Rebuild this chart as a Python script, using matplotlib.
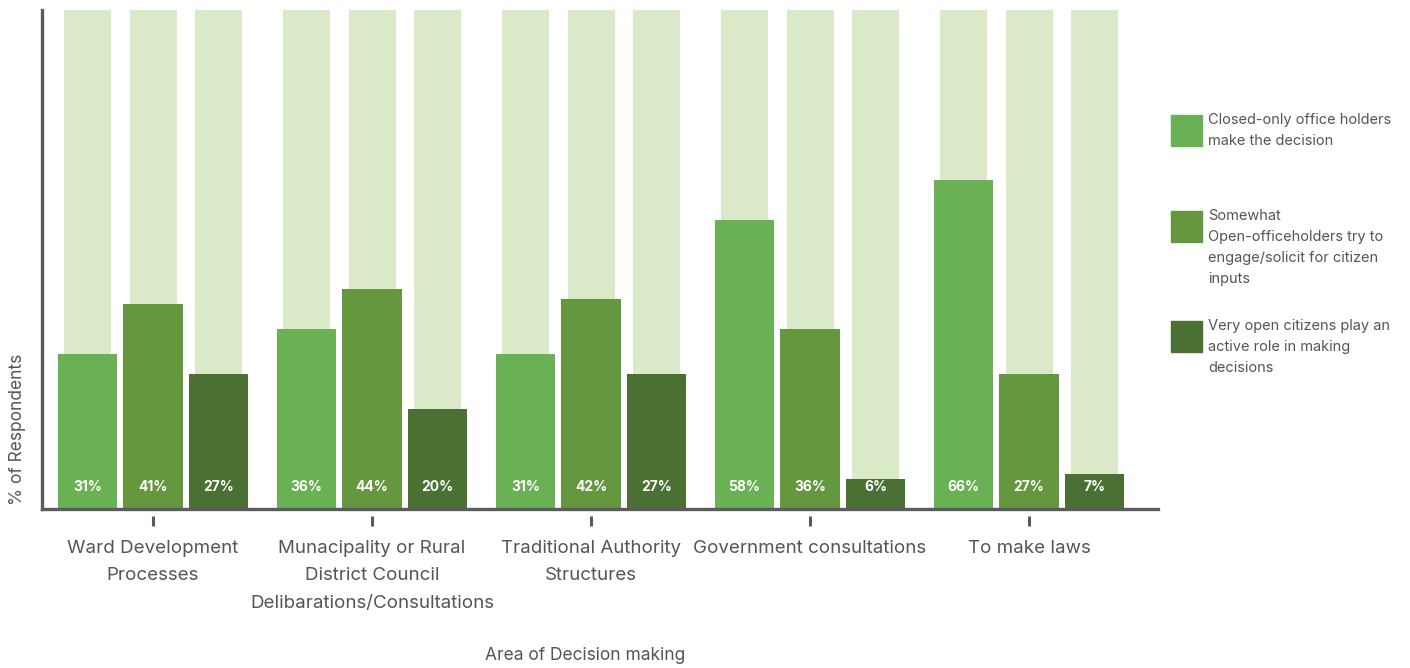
import matplotlib
matplotlib.use("Agg")
import matplotlib.pyplot as plt
from matplotlib.patches import Rectangle
from matplotlib.transforms import blended_transform_factory
import numpy as np

plt.rcParams['font.family'] = ['Inter', 'DejaVu Sans']

# Areas of decision making
categories = [
    "Ward Development\nProcesses",
    "Munacipality or Rural\nDistrict Council\nDelibarations/Consultations",
    "Traditional Authority\nStructures",
    "Government consultations",
    "To make laws",
]

# Share of respondents (%) per level of openness
closed_only = [31, 36, 31, 58, 66]
somewhat_open = [41, 44, 42, 36, 27]
very_open = [27, 20, 27, 6, 7]

series_names = [
    "Closed-only office holders\nmake the decision",
    "Somewhat\nOpen-officeholders try to\nengage/solicit for citizen\ninputs",
    "Very open citizens play an\nactive role in making\ndecisions",
]
series_values = [closed_only, somewhat_open, very_open]
series_colors = ["#6ab155", "#64973e", "#4a7133"]
background_value = 100
background_color = "#daeac8"

text_color = "#555559"
axis_color = "#5a5a60"

fig = plt.figure(figsize=(14.1, 6.68), dpi=100)
ax = fig.add_axes([0.0298, 0.238, 0.7915, 0.747])

x = np.arange(len(categories))
offsets = [-0.3, 0.0, 0.3]

for k, (vals, color) in enumerate(zip(series_values, series_colors)):
    xs = x + offsets[k]
    ax.bar(xs, [background_value] * len(vals), width=0.215,
           color=background_color, zorder=1)
    ax.bar(xs, vals, width=0.27, color=color, zorder=2)
    for xi, v in zip(xs, vals):
        ax.text(xi, 4.4, f"{v}%", ha="center", va="center", color="white",
                fontsize=10, fontweight="bold", zorder=3)

ax.set_xlim(-0.507, 4.589)
ax.set_ylim(0, background_value)
ax.set_yticks([])

ax.set_xticks(x)
ax.set_xticklabels(categories, fontsize=13.5, color=text_color, linespacing=1.82)
ax.tick_params(axis="x", length=0, pad=22)

# detached tick marks below the baseline
trans = blended_transform_factory(ax.transData, ax.transAxes)
for xi in x:
    ax.plot([xi, xi], [-0.014, -0.034], color=axis_color, lw=2.2,
            transform=trans, clip_on=False, solid_capstyle="butt")

for side in ["top", "right"]:
    ax.spines[side].set_visible(False)
for side in ["left", "bottom"]:
    ax.spines[side].set_color(axis_color)
    ax.spines[side].set_linewidth(2.4)

fig.text(0.0125, 0.357, "% of Respondents", rotation=90, ha="center",
         va="center", fontsize=12.5, color=text_color)
fig.text(0.415, 0.019, "Area of Decision making", ha="center", va="center",
         fontsize=12.5, color=text_color)

# legend
legend_tops = [115, 211, 321]
W, H = 1410, 668
for top, name, color in zip(legend_tops, series_names, series_colors):
    fig.add_artist(Rectangle((1171 / W, 1 - (top + 31) / H), 31 / W, 31 / H,
                             transform=fig.transFigure, color=color))
    fig.text(1208 / W, 1 - (top - 2) / H, name, ha="left", va="top",
             fontsize=10.5, color=text_color, linespacing=1.65)

fig.savefig("out.png", dpi=100)
